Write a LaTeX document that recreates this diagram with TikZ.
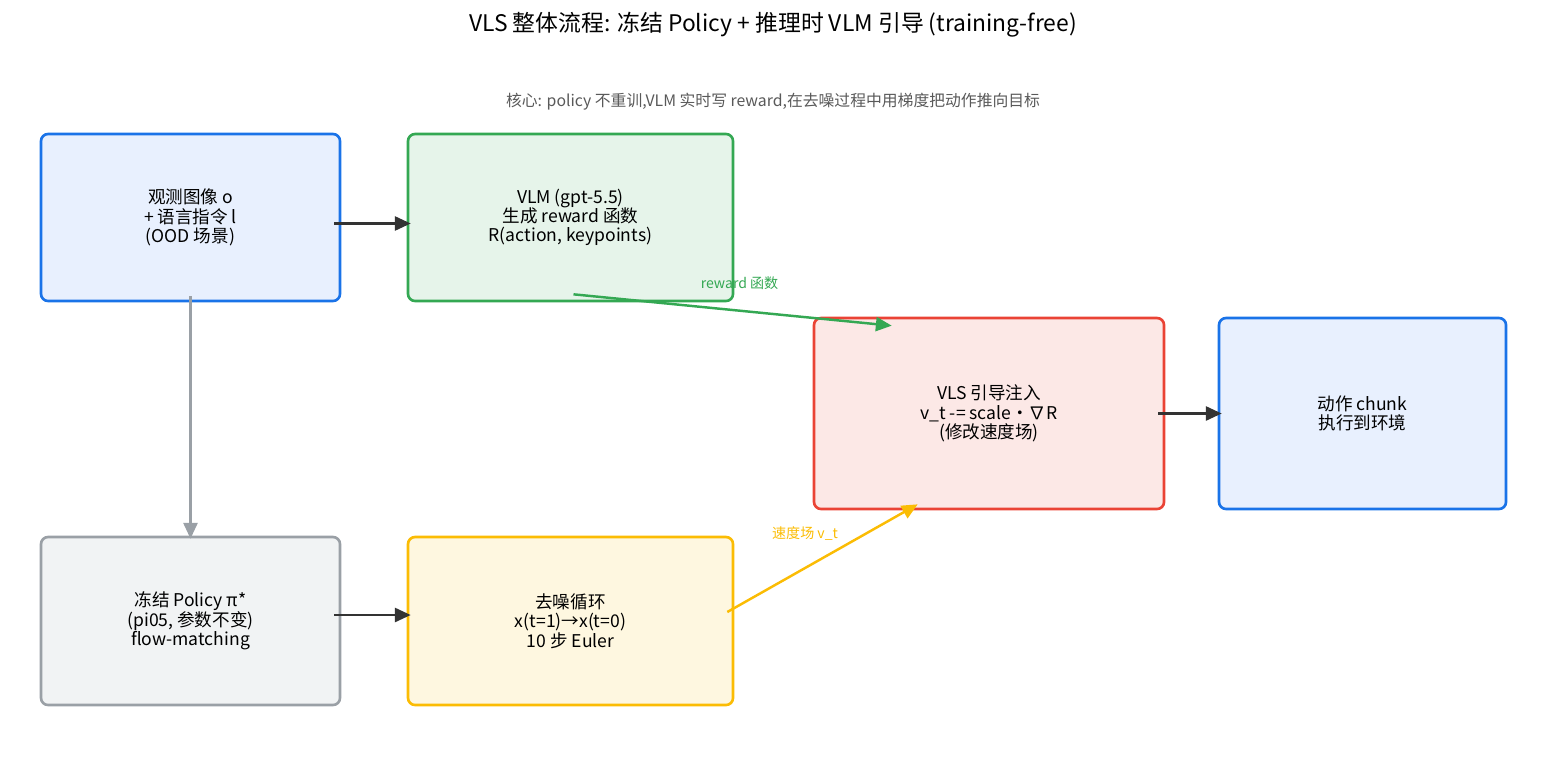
\documentclass[tikz,border=0pt]{standalone}
\usepackage{fontspec}
\setmainfont{Noto Sans CJK SC}
\usetikzlibrary{positioning,calc,arrows.meta}
\definecolor{bluel}{HTML}{1A73E8}\definecolor{bluef}{HTML}{E8F0FE}
\definecolor{greenl}{HTML}{34A853}\definecolor{greenf}{HTML}{E6F4EA}
\definecolor{redl}{HTML}{EA4335}\definecolor{redf}{HTML}{FCE8E6}
\definecolor{grayl}{HTML}{9AA0A6}\definecolor{grayf}{HTML}{F1F3F4}
\definecolor{yell}{HTML}{FBBC04}\definecolor{yelf}{HTML}{FEF7E0}
\definecolor{ink}{HTML}{333333}
\tikzset{
    box/.style = {rectangle, rounded corners=4pt, line width=1.5pt, align=center,
                  font=\fontsize{10}{11}\selectfont, inner sep=0pt},
    boxb/.style = {box, draw=bluel, fill=bluef},
    boxg/.style = {box, draw=greenl, fill=greenf},
    boxr/.style = {box, draw=redl, fill=redf},
    boxk/.style = {box, draw=grayl, fill=grayf},
    boxy/.style = {box, draw=yell, fill=yelf},
    edgen/.style = {-{Triangle[length=9pt,width=8pt]}, line width=1.4pt, ink},
    edgek/.style = {edgen, grayl},
    edgeg/.style = {edgen, greenl},
    edgey/.style = {edgen, yell},
    lbl/.style = {font=\fontsize{8}{9}\selectfont}
}
\begin{document}
\begin{tikzpicture}[x=0.02cm,y=-0.02cm]
\useasboundingbox (0,0) rectangle (1547,767);
\node[font=\fontsize{13}{14}\selectfont] (title) at (773,25) {VLS 整体流程: 冻结 Policy + 推理时 VLM 引导 (training-free)};
\node[font=\fontsize{9}{10}\selectfont, text=black!65] (sub) at (773,102) {核心: policy 不重训,VLM 实时写 reward,在去噪过程中用梯度把动作推向目标};
%
\node[boxb, minimum width=299*0.02cm, minimum height=167*0.02cm] (obs) at (190.5,217.5) {观测图像 o\\+ 语言指令 l\\(OOD 场景)};
\node[boxg, minimum width=325*0.02cm, minimum height=167*0.02cm] (vlm) at (570.5,217.5) {VLM (gpt-5.5)\\生成 reward 函数\\R(action, keypoints)};
\node[boxr, minimum width=350*0.02cm, minimum height=191*0.02cm] (vls) at (989,413.5) {VLS 引导注入\\v\_t -= scale・∇R\\(修改速度场)};
\node[boxb, minimum width=287*0.02cm, minimum height=191*0.02cm] (act) at (1362.5,413.5) {动作 chunk\\执行到环境};
\node[boxk, minimum width=299*0.02cm, minimum height=168*0.02cm] (pol) at (190.5,621) {冻结 Policy π*\\(pi05, 参数不变)\\flow-matching};
\node[boxy, minimum width=325*0.02cm, minimum height=168*0.02cm] (den) at (570.5,621) {去噪循环\\x(t=1)→x(t=0)\\10 步 Euler};
%
\draw[edgen] ([xshift=-7*0.02cm,yshift=-6*0.02cm]obs.east) -- ([xshift=4*0.02cm,yshift=-6*0.02cm]vlm.west);
\draw[edgek] ([yshift=6*0.02cm]obs.south) -- ([yshift=-3*0.02cm]pol.north);
\draw[edgen] ([xshift=-7*0.02cm,yshift=6*0.02cm]pol.east) -- ([xshift=4*0.02cm,yshift=6*0.02cm]den.west);
\draw[edgen] ([xshift=-7*0.02cm]vls.east) -- ([xshift=4*0.02cm]act.west);
\draw[edgeg] ($(vlm.south)+(3,-8)$) -- node[lbl, text=greenl, above right, pos=0.4, xshift=-4pt, yshift=6pt] {reward 函数} ($(vls.north west)+(79,9)$);
\draw[edgey] ($(den.east)+(-7,-9)$) -- node[lbl, text=yell, above left, pos=0.6, xshift=2pt] {速度场 v\_t} ($(vls.south west)+(105,-6)$);
\end{tikzpicture}
\end{document}
